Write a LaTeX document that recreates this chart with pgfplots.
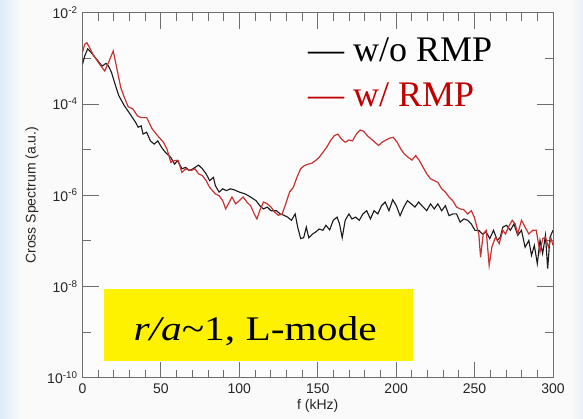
\documentclass[border=0pt]{standalone}
\usepackage{pgfplots}
\pgfplotsset{compat=1.18}
\usepackage{pgfplotstable}
\usepackage{graphicx}
\usepackage{fontspec}
\setmainfont{Liberation Sans}
\newfontfamily\tnr{Liberation Serif}
\definecolor{curvered}{RGB}{200,50,50}
\definecolor{legred}{RGB}{192,0,0}
\definecolor{axgray}{RGB}{110,110,110}
\definecolor{slideblue}{RGB}{222,236,248}

\pgfplotstableread{
f v
0 7.41e-4
1.4 1.12e-3
3.3 1.62e-3
5.4 1.35e-3
9 9.55e-4
12.5 6.76e-4
15 7.76e-4
16.6 6.76e-4
18.5 4.90e-4
20.8 2.69e-4
23.2 1.51e-4
26.7 9.12e-5
30.3 6.03e-5
33.8 3.98e-5
35.5 3.09e-5
37.4 3.31e-5
38.6 2.19e-5
40.9 2.40e-5
43.3 1.55e-5
45.7 1.32e-5
48 1.55e-5
50.4 1.12e-5
52.8 8.71e-6
56.3 6.76e-6
58.7 4.79e-6
60.6 5.75e-6
63.4 3.80e-6
65.8 4.07e-6
68.1 3.47e-6
70.5 3.80e-6
74 4.57e-6
76.4 3.80e-6
78.8 2.95e-6
81.1 2.09e-6
83.5 2.46e-6
84.7 1.62e-6
87.1 1.17e-6
89.4 1.38e-6
91.8 1.26e-6
94.2 1.38e-6
96.5 1.32e-6
100 1.17e-6
103.6 1.07e-6
107.2 9.12e-7
110.7 7.59e-7
113 5.89e-7
115.4 5.01e-7
117.8 5.50e-7
120.2 4.57e-7
123.7 4.57e-7
126 3.89e-7
128.5 3.63e-7
130.8 3.31e-7
133.2 2.82e-7
135.6 3.89e-7
137.2 2.00e-7
139.1 1.12e-7
141 1.17e-7
142.7 2.00e-7
144.3 1.17e-7
146.7 1.41e-7
148.6 1.55e-7
150.9 1.82e-7
153.3 1.70e-7
155.2 2.19e-7
157.6 1.74e-7
159.9 2.82e-7
162.3 3.31e-7
163.9 2.34e-7
165.6 1.17e-7
167.5 2.82e-7
169.9 3.89e-7
171.8 3.02e-7
174.1 3.31e-7
176.5 2.82e-7
178.8 3.89e-7
181.2 4.57e-7
183.6 3.02e-7
185.9 4.57e-7
188.3 3.89e-7
190.7 5.89e-7
193 7.08e-7
195.4 4.57e-7
197.8 7.94e-7
200.1 5.89e-7
202.5 3.55e-7
204.9 5.50e-7
207.2 7.59e-7
209.6 6.46e-7
212 5.50e-7
214.3 7.08e-7
217.2 5.50e-7
219.5 4.57e-7
221.9 6.46e-7
224.3 5.01e-7
226.6 6.46e-7
229 4.57e-7
231.4 5.89e-7
233.7 3.55e-7
236.1 3.89e-7
238.5 3.89e-7
240.8 2.57e-7
243.2 3.02e-7
245.6 2.82e-7
247.9 2.34e-7
250.3 1.70e-7
252.7 1.70e-7
255 1.41e-7
257.4 1.55e-7
259.7 1.12e-7
262.1 1.70e-7
264.5 1.02e-7
266.4 1.20e-7
268 2.00e-7
270.4 2.19e-7
272.8 1.70e-7
275.1 2.34e-7
277.5 1.32e-7
279.9 1.70e-7
282.2 7.24e-8
284.6 1.02e-7
286.3 4.79e-8
288.1 7.94e-8
290 3.16e-8
291.7 1.02e-7
293.4 5.25e-8
295.2 1.32e-7
296.6 2.45e-8
298.1 1.20e-7
300 1.70e-7
}\woRMP

\pgfplotstableread{
f v
0 1.35e-3
1.4 2.04e-3
2.8 2.19e-3
4.3 1.78e-3
6.6 1.23e-3
9.5 8.71e-4
11.8 6.76e-4
14.2 5.25e-4
16.6 8.13e-4
19.6 1.45e-3
22 5.75e-4
24.4 2.29e-4
26.7 1.38e-4
29.1 8.71e-5
32.2 7.76e-5
35 5.50e-5
37.4 5.01e-5
40.9 5.01e-5
44.5 2.82e-5
48 2.00e-5
51.6 1.45e-5
53.9 1.02e-5
56.3 5.25e-6
58.7 5.75e-6
61 5.75e-6
63.4 3.16e-6
65.8 3.80e-6
69.3 3.47e-6
71.7 3.80e-6
74 2.95e-6
76.4 2.69e-6
78.8 2.09e-6
81.1 1.48e-6
84.7 1.07e-6
87.1 9.77e-7
89.4 7.59e-7
91.3 5.01e-7
93 6.46e-7
95.3 9.12e-7
97.7 6.46e-7
100 7.59e-7
102.4 9.12e-7
104.8 7.08e-7
107.2 5.89e-7
109.5 3.89e-7
111.2 3.02e-7
113 4.57e-7
115.4 7.08e-7
117.8 6.46e-7
120.2 5.50e-7
122.5 4.27e-7
124.9 3.63e-7
127.3 3.89e-7
129.6 6.46e-7
132 1.17e-6
134.4 1.48e-6
136.7 2.46e-6
139.1 3.80e-6
141.5 4.47e-6
143.8 4.79e-6
146.2 5.01e-6
148.6 5.75e-6
150.9 6.76e-6
153.3 8.71e-6
155.7 1.12e-5
158 1.55e-5
160.4 2.00e-5
162.8 2.19e-5
165.1 1.70e-5
167.5 1.45e-5
169.9 1.62e-5
172.2 1.55e-5
174.6 2.19e-5
177 2.69e-5
179.3 2.51e-5
181.7 2.00e-5
184.1 1.70e-5
186.4 1.45e-5
188.8 1.23e-5
191.1 1.45e-5
193.5 1.62e-5
195.9 1.78e-5
198.2 1.86e-5
200.6 1.45e-5
203 1.02e-5
205.3 7.94e-6
207.7 6.76e-6
210.1 5.89e-6
212.4 7.41e-6
214.8 5.75e-6
217.2 4.07e-6
219.5 2.95e-6
221.9 2.29e-6
224.3 2.09e-6
226.6 1.91e-6
229 1.38e-6
231.4 1.17e-6
233.7 9.12e-7
236.1 7.59e-7
238.5 5.50e-7
240.8 5.01e-7
243.2 4.79e-7
245.6 3.89e-7
247.9 4.57e-7
249.8 3.31e-7
251.5 2.00e-7
252.7 1.41e-7
253.8 4.37e-8
255.5 1.41e-7
257.4 1.70e-7
259.3 2.88e-8
261 7.24e-8
263.3 1.20e-7
265.7 8.71e-8
268 1.70e-7
269.7 1.41e-7
271.6 2.00e-7
274 2.82e-7
275.9 2.34e-7
277.5 1.41e-7
279.9 2.82e-7
282.2 2.00e-7
284.6 1.41e-7
287 1.70e-7
289.3 1.70e-7
291.7 5.62e-8
293.4 1.12e-7
295.2 1.20e-7
297.1 7.24e-8
298.8 1.12e-7
300 7.94e-8
}\wRMP

\begin{document}
\begin{tikzpicture}
\path[use as bounding box, fill=white!98!black] (-82.5bp,-41.3bp) rectangle (500.5bp,377.7bp);
\shade[left color=slideblue, right color=white!98!black] (-82.5bp,-41.3bp) rectangle (-62bp,377.7bp);
\shade[left color=white!98!black, right color=slideblue!70!white] (489bp,-41.3bp) rectangle (500.5bp,377.7bp);
\begin{axis}[
  at={(0,0)}, anchor=south west,
  scale only axis, width=470.5bp, height=365bp,
  xmin=0, xmax=300, ymode=log, ymin=1e-10, ymax=1e-2,
  xtick={0,50,100,150,200,250,300},
  xticklabels={0,50,100,150,200,250,300},
  minor xtick={10,20,30,40,60,70,80,90,110,120,130,140,160,170,180,190,210,220,230,240,260,270,280,290},
  ytick={1e-10,1e-8,1e-6,1e-4,1e-2},
  yticklabels={10\textsuperscript{-10},10\textsuperscript{-8},10\textsuperscript{-6},10\textsuperscript{-4},10\textsuperscript{-2}},
  minor ytick={1e-9,1e-7,1e-5,1e-3},
  major tick length=16bp, minor tick length=8bp,
  tick align=inside, xtick pos=both, ytick pos=both,
  every tick/.style={axgray, line width=0.9bp},
  every minor tick/.style={axgray, line width=0.9bp},
  axis line style={axgray, line width=1bp},
  tick label style={font=\fontsize{14bp}{16bp}\selectfont, text=black!85},
  xticklabel style={yshift=-2bp},
  yticklabel style={xshift=-1.5bp},
  xlabel={f (kHz)}, ylabel={Cross Spectrum (a.u.)},
  label style={font=\fontsize{14bp}{16bp}\selectfont, text=black!85},
  xlabel style={at={(axis description cs:0.5,-0.0762)}, anchor=center},
  ylabel style={at={(axis description cs:-0.1073,0.5)}, anchor=center},
  axis background/.style={fill=white!99!black},
  clip=true,
]
\fill[yellow] (rel axis cs:0.0457,0.0466) rectangle (rel axis cs:0.7018,0.2422);
\addplot[black!90, line width=1.1bp] table[x=f,y=v] {\woRMP};
\addplot[curvered, line width=1.2bp] table[x=f,y=v] {\wRMP};
\node[anchor=base west, inner sep=0pt, font=\tnr\fontsize{36bp}{40bp}\selectfont, text=black] at (rel axis cs:0.4793,0.8658) {— w/o RMP};
\node[anchor=base west, inner sep=0pt, font=\tnr\fontsize{36bp}{40bp}\selectfont, text=legred] at (rel axis cs:0.4793,0.7425) {— w/ RMP};
\node[anchor=base west, inner sep=0pt, font=\tnr\fontsize{34.5bp}{38bp}\selectfont, text=black] at (rel axis cs:0.108,0.1033) {\scalebox{1.2}[1]{\itshape r/a\upshape\char"7E 1, L-mode}};
\end{axis}
\end{tikzpicture}
\end{document}
